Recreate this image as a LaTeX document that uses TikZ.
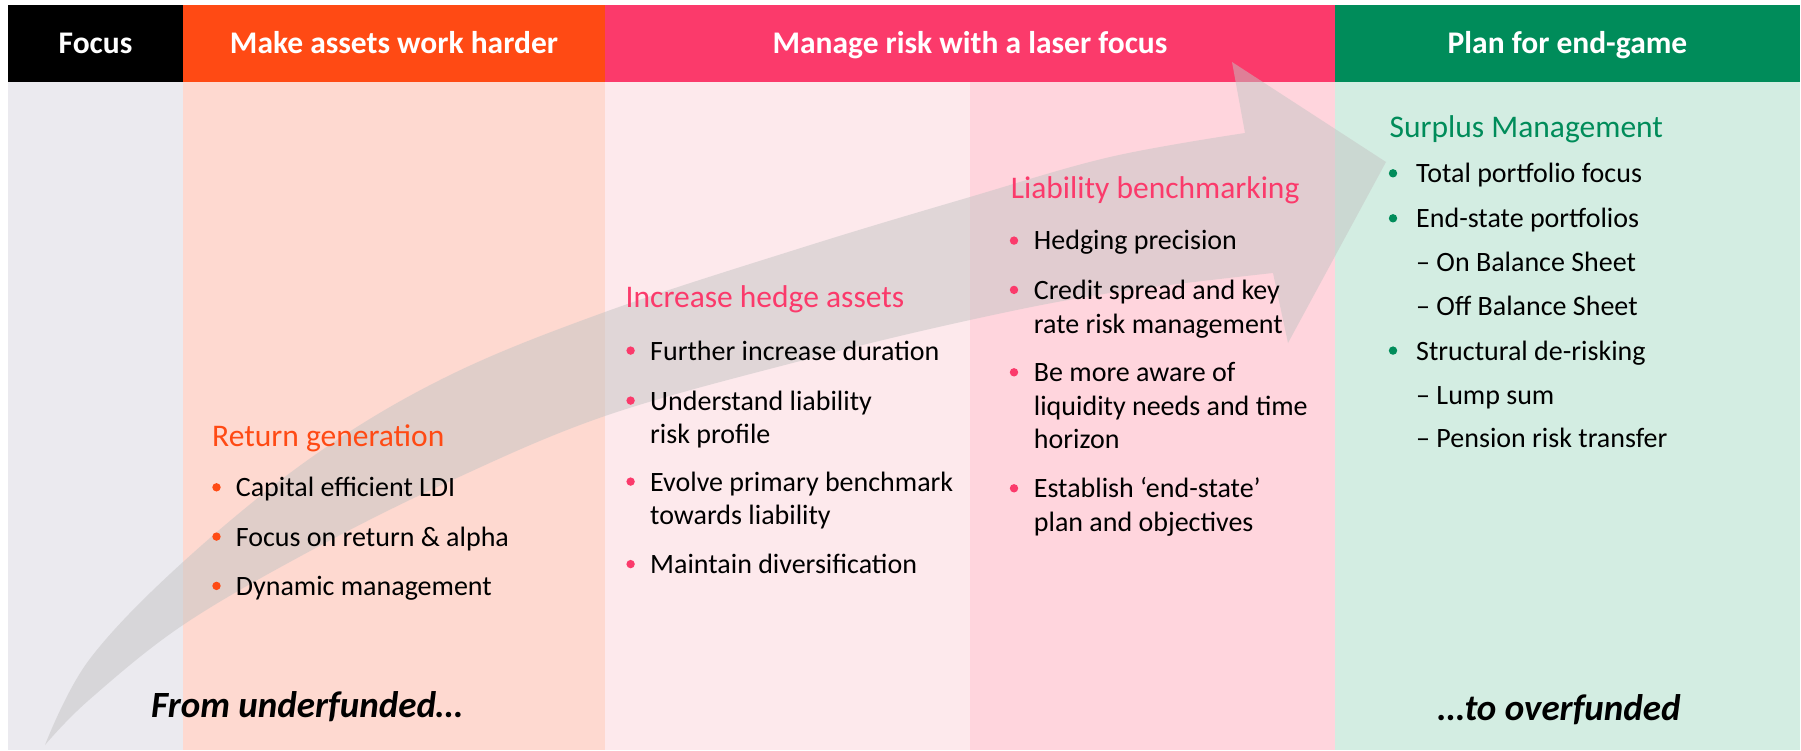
\documentclass[tikz,border=0pt]{standalone}
\usepackage{fontspec}
\setmainfont{Carlito}
\definecolor{focusbg}{HTML}{EBEAEF}
\definecolor{assetshead}{HTML}{FF4A14}
\definecolor{assetsbg}{HTML}{FED9D0}
\definecolor{riskhead}{HTML}{FB3A6B}
\definecolor{hedgebg}{HTML}{FDE9EC}
\definecolor{benchbg}{HTML}{FFD5DD}
\definecolor{endhead}{HTML}{008C5A}
\definecolor{endbg}{HTML}{D3EDE2}
\definecolor{arrowgrey}{HTML}{C4C4C4}
\tikzset{
  head/.style={anchor=base, inner sep=0pt, text=white, font=\fontsize{31.5}{36}\selectfont\bfseries},
  title/.style={anchor=base west, inner sep=0pt, font=\fontsize{31.5}{36}\selectfont},
  item/.style={anchor=base west, inner sep=0pt, font=\fontsize{28}{33}\selectfont},
  slogan/.style={anchor=base west, inner sep=0pt, font=\fontsize{37}{42}\selectfont\bfseries\itshape}
}

\begin{document}
\begin{tikzpicture}[x=1pt,y=-1pt]
\useasboundingbox (0,0) rectangle (1801,751);
\fill[white] (0,0) rectangle (1801,751);

%column backgrounds
\fill[focusbg] (8,82) rectangle (183,750);
\fill[assetsbg] (183,82) rectangle (605,750);
\fill[hedgebg] (605,82) rectangle (970,750);
\fill[benchbg] (970,82) rectangle (1335,750);
\fill[endbg] (1335,82) rectangle (1800,750);

%header bar
\fill[black] (8,5) rectangle (183,82);
\fill[assetshead] (183,5) rectangle (605,82);
\fill[riskhead] (605,5) rectangle (1335,82);
\fill[endhead] (1335,5) rectangle (1800,82);
\node[head] (focus) at (95.5,53.5) {Focus};
\node[head] (assets) at (394,53.5) {Make assets work harder};
\node[head] (risk) at (970,53.5) {Manage risk with a laser focus};
\node[head] (endgame) at (1567.5,53.5) {Plan for end-game};

%the big arrow, drawn under the text
\fill[arrowgrey, opacity=0.5]
  plot[smooth, tension=0.6] coordinates {(45,745) (89,660) (183,562) (312,457) (446,377) (605,312) (804,247) (970,197) (1110,157) (1245,133)}
  -- (1232,62) -- (1386,162) -- (1288,343) -- (1273,273)
  -- plot[smooth, tension=0.6] coordinates {(1273,273) (1110,293) (970,320) (804,360) (605,416) (446,483) (312,550) (183,625) (89,700) (45,745)}
  -- cycle;

%return generation
\node[title, text=assetshead] (ret) at (212,446.7) {Return generation};
\foreach \n/\y/\t in {1/496.7/Capital efficient LDI, 2/546/Focus on return \& alpha, 3/595.3/Dynamic management}{
  \fill[assetshead] (216.5,\y-9.4) circle (4.2);
  \node[item] (ret\n) at (235.7,\y) {\t};
}

%increase hedge assets
\node[title, text=riskhead] (hed) at (625.5,308) {Increase hedge assets};
\foreach \n/\y/\b/\t in {1/360/1/Further increase duration, 2/410/1/Understand liability, 3/443.5/0/risk profile,
    4/491/1/Evolve primary benchmark, 5/524.5/0/towards liability, 6/573.5/1/Maintain diversification}{
  \ifnum\b=1 \fill[riskhead] (630.6,\y-9.4) circle (4.2); \fi
  \node[item] (hed\n) at (650,\y) {\t};
}

%liability benchmarking
\node[title, text=riskhead] (ben) at (1010.7,198.3) {Liability benchmarking};
\foreach \n/\y/\b/\t in {1/250/1/Hedging precision, 2/299.3/1/Credit spread and key, 3/333.3/0/rate risk management,
    4/381.7/1/Be more aware of, 5/415/0/liquidity needs and time, 6/448.3/0/horizon,
    7/497.7/1/Establish ‘end-state’, 8/531/0/plan and objectives}{
  \ifnum\b=1 \fill[riskhead] (1014,\y-9.4) circle (4.2); \fi
  \node[item] (ben\n) at (1033.7,\y) {\t};
}

%surplus management
\node[title, text=endhead] (sur) at (1389.5,137.3) {Surplus Management};
\foreach \n/\y/\b/\t in {1/182.7/1/Total portfolio focus, 2/227.7/1/End-state portfolios, 3/271.7/0/\textendash{} On Balance Sheet,
    4/316/0/\textendash{} Off Balance Sheet, 5/360/1/Structural de-risking, 6/404/0/\textendash{} Lump sum,
    7/447.7/0/\textendash{} Pension risk transfer}{
  \ifnum\b=1 \fill[endhead] (1393,\y-9.4) circle (4.2); \fi
  \node[item] (sur\n) at (1416,\y) {\t};
}

\node[slogan] (from) at (151,717) {From underfunded…};
\node[slogan] (to) at (1438,720) {…to overfunded};
\end{tikzpicture}
\end{document}
